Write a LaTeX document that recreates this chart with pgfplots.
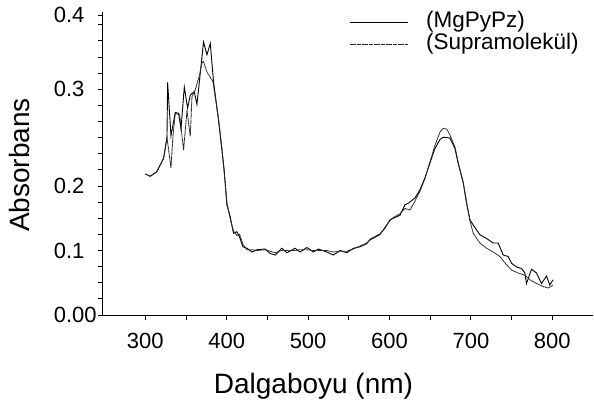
\documentclass[border=0pt]{standalone}
\usepackage{fontspec}
\setmainfont{Liberation Sans}
\usepackage{pgfplots}
\pgfplotsset{compat=1.18}
\begin{document}
\begin{tikzpicture}
\useasboundingbox (-103pt,-92pt) rectangle (491pt,315pt);
\begin{axis}[
  at={(0,0)}, anchor=south west,
  scale only axis, width=490pt, height=303pt,
  xmin=248, xmax=850, ymin=0, ymax=0.404,
  axis lines*=left,
  axis line style={line width=1pt, black},
  tick align=outside,
  major tick length=5pt, minor tick length=5pt,
  every tick/.style={black, line width=0.9pt},
  xtick={300,400,500,600,700,800},
  xticklabels={300,400,500,600,700,800},
  minor xtick={350,450,550,650,750},
  ytick={0,0.086,0.172,0.301,0.4},
  yticklabels={\makebox[44pt][l]{0.00},\makebox[44pt][l]{0.1},\makebox[44pt][l]{0.2},\makebox[44pt][l]{0.3},\makebox[44pt][l]{0.4}},
  minor ytick={0.0215,0.043,0.0645,0.1075,0.129,0.1505,0.1935,0.215,0.2365,0.258,0.2795,0.3225,0.344,0.3655,0.387},
  yticklabel style={inner sep=0pt, anchor=east, font=\fontsize{22}{22}\selectfont},
  xticklabel style={font=\fontsize{22}{22}\selectfont, inner sep=0pt, yshift=-13pt},
  /pgf/number format/assume math mode=true,
  xlabel={Dalgaboyu (nm)},
  ylabel={Absorbans},
  xlabel style={font=\fontsize{28}{28}\selectfont, at={(axis description cs:0.4296,0)}, anchor=base, yshift=-78pt},
  ylabel style={font=\fontsize{28}{28}\selectfont, at={(axis description cs:-0.149,0.495)}, anchor=base},
  legend image code/.code={\draw[#1] (0pt,0pt) -- (58pt,0pt);},
  legend style={draw=none, fill=none, at={(axis description cs:0.502,1.003)}, anchor=north west,
    inner sep=0pt, column sep=18pt, row sep=0pt,
    font=\fontsize{22.5}{22.5}\selectfont,
    nodes={inner sep=0pt, text height=16pt, text depth=6pt}},
  legend cell align=left,
  clip=false,
]
\addplot[black, line width=0.9pt] coordinates {
(300,0.188)(306,0.185)(314,0.191)(322.5,0.209)(326.6,0.237)(327.4,0.310)(331.5,0.239)(336.8,0.270)(340.9,0.269)(343.8,0.248)(347.9,0.304)(351.9,0.276)(355.2,0.293)(360.1,0.298)(363.4,0.281)(366.6,0.313)(371.5,0.364)(375.7,0.347)(379.8,0.362)(383.8,0.311)(389.9,0.260)(394.1,0.220)(396.9,0.193)(400.2,0.147)(404.3,0.131)(408.3,0.109)(412.5,0.111)(415.7,0.104)(419.9,0.091)(424.8,0.089)(430.9,0.084)(437.1,0.087)(447.2,0.088)(453.4,0.082)(459.5,0.080)(467.7,0.089)(473.9,0.083)(484,0.089)(490.2,0.084)(498.4,0.090)(506.5,0.084)(512.6,0.088)(522.9,0.084)(531,0.080)(539.3,0.086)(547.5,0.083)(555.6,0.089)(563.8,0.091)(572,0.095)(576.1,0.101)(588.3,0.108)(594.5,0.116)(600.6,0.127)(604.7,0.129)(612.9,0.133)(619,0.147)(623.1,0.149)(631.3,0.156)(637.4,0.167)(643.6,0.183)(649.7,0.203)(655.8,0.222)(662,0.234)(666,0.237)(674.2,0.236)(680.4,0.222)(684.4,0.202)(690.6,0.176)(694.7,0.149)(698.8,0.127)(702.8,0.120)(711,0.107)(719.3,0.102)(727.4,0.096)(733.5,0.096)(739.6,0.080)(745.8,0.078)(749.9,0.069)(756.1,0.064)(762.2,0.062)(766.3,0.056)(768.3,0.042)(774.5,0.061)(780.6,0.056)(786.7,0.042)(792.9,0.052)(796.9,0.040)(801,0.047)
};
\addlegendentry{(MgPyPz)}
\addplot[black!85, line width=0.8pt, dash pattern=on 2pt off 0.4pt] coordinates {
(300,0.188)(306,0.185)(314,0.191)(322.5,0.209)(326.6,0.237)(331.5,0.196)(334,0.239)(336.8,0.269)(342.1,0.267)(347,0.220)(351.2,0.273)(355.2,0.238)(357.3,0.291)(361.3,0.300)(366.6,0.320)(369.6,0.336)(371.5,0.338)(375.7,0.324)(383.1,0.311)(389.9,0.262)(394.1,0.222)(396.9,0.190)(400.2,0.150)(404.3,0.128)(408.3,0.112)(412.5,0.106)(415.7,0.108)(419.9,0.094)(424.8,0.087)(430.9,0.087)(437.1,0.086)(447.2,0.087)(453.4,0.085)(459.5,0.083)(467.7,0.086)(473.9,0.086)(484,0.086)(490.2,0.087)(498.4,0.087)(506.5,0.086)(512.6,0.086)(522.9,0.086)(531,0.084)(539.3,0.085)(547.5,0.085)(555.6,0.088)(563.8,0.092)(572,0.096)(576.1,0.100)(588.3,0.107)(594.5,0.117)(600.6,0.126)(604.7,0.130)(612.9,0.135)(619,0.142)(625.2,0.140)(631.3,0.152)(637.4,0.165)(643.6,0.182)(649.7,0.204)(655.8,0.226)(662,0.244)(666,0.249)(670.2,0.248)(674.2,0.240)(680.4,0.224)(684.4,0.203)(690.6,0.177)(694.7,0.150)(698.8,0.126)(702.8,0.109)(711,0.096)(719.3,0.089)(727.4,0.084)(735.6,0.078)(743.8,0.067)(749.9,0.060)(758,0.056)(766.3,0.053)(772.4,0.047)(780.6,0.042)(788.8,0.038)(794.9,0.036)(801,0.040)
};
\addlegendentry{(Supramolekül)}
\end{axis}
\end{tikzpicture}
\end{document}
